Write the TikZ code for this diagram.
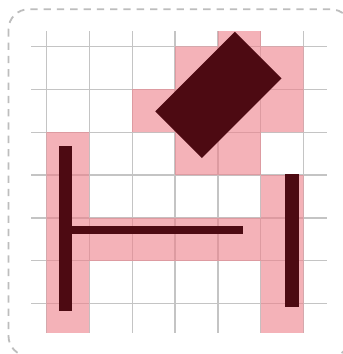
\documentclass[tikz,border=0pt]{standalone}
\begin{document}
\begin{tikzpicture}[x=1pt,y=-1pt,
  gridline/.style={draw=gridgray,line width=1.2pt},
  pinkcell/.style={fill=pinkbase,fill opacity=0.6},
  darkshape/.style={fill=darkred,draw=none},
  frame/.style={draw=framegray,line width=1.8pt,dash pattern=on 7.3pt off 6pt,rounded corners=20pt}]
\definecolor{gridgray}{HTML}{C4C4C4}
\definecolor{pinkbase}{RGB}{238,128,138}
\definecolor{darkred}{HTML}{4D0A12}
\definecolor{framegray}{HTML}{BDBDBD}
\useasboundingbox (0,0) rectangle (343,354);
\fill[white] (0,0) rectangle (343,354);
\begin{scope}
  \clip (0,0) rectangle (343,354);
  \draw[frame] (8.5,9.3) rectangle (351,356);
\end{scope}
\def\o{46.3}
\def\s{42.9}
% grid
\foreach \k in {0,...,6}{
  \draw[gridline] ({\o+\k*\s},31) -- ({\o+\k*\s},332.7);
  \draw[gridline] (31,{\o+\k*\s}) -- (326.7,{\o+\k*\s});
}
% pink cells
\begin{scope}
  \clip (31,31) rectangle (326.7,332.7);
  \path[pinkcell]
  \foreach \c/\r in {4/-1,3/0,4/0,5/0,2/1,3/1,4/1,5/1,0/2,3/2,4/2,0/3,5/3,0/4,1/4,2/4,3/4,4/4,5/4,0/5,5/5,0/6,5/6}{
    ({\o+\c*\s},{\o+\r*\s}) rectangle ++(\s,\s)
  };
\end{scope}
% dark shapes
\fill[darkshape] (59.3,145.7) rectangle (72.3,311);
\fill[darkshape] (72.3,226) rectangle (243.3,234);
\fill[darkshape] (285.3,174) rectangle (298.7,306.7);
\fill[darkshape] (234.9,31.8) -- (281.5,78.4) -- (201.9,158.0) -- (155.3,111.4) -- cycle;
\end{tikzpicture}
\end{document}
